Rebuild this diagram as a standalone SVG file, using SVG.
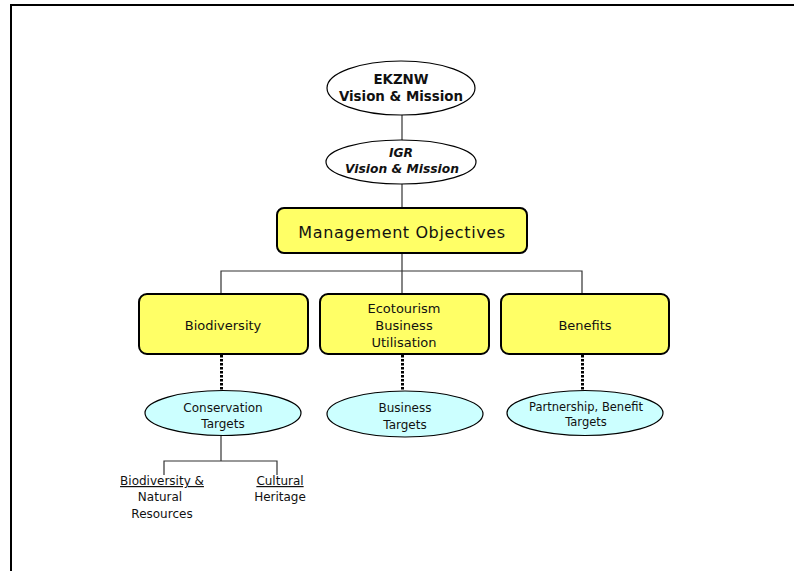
<svg xmlns="http://www.w3.org/2000/svg" width="794" height="571" viewBox="0 0 794 571">
<style>
text{font-family:"DejaVu Sans","Liberation Sans",sans-serif;fill:#111;text-anchor:middle}
.oval{fill:#fff;stroke:#000;stroke-width:1.2}
.tgt{fill:#ccffff;stroke:#000;stroke-width:1.2}
.box{fill:#ffff66;stroke:#000;stroke-width:2}
.ln{stroke:#333;stroke-width:1.2;fill:none}
.dot{stroke:#000;stroke-width:3;stroke-dasharray:2.5 1.5;fill:none}
.b{font-weight:bold;font-size:13.4px}
.bi{font-weight:bold;font-style:italic;font-size:12.3px}
.m{font-size:16px;letter-spacing:0.6px}
.s{font-size:13px}
.t{font-size:12px}
.u{text-decoration:underline}
</style>
<rect x="11" y="5" width="800" height="580" fill="none" stroke="#000" stroke-width="2"/>
<g id="connectors">
<line class="ln" x1="402" y1="115" x2="402" y2="141"/>
<line class="ln" x1="402" y1="184" x2="402" y2="208"/>
<line class="ln" x1="402" y1="253" x2="402" y2="294"/>
<polyline class="ln" points="221,294 221,271 582,271 582,294"/>
<line class="dot" x1="221.5" y1="355" x2="221.5" y2="391"/>
<line class="dot" x1="402.5" y1="355" x2="402.5" y2="391"/>
<line class="dot" x1="582.5" y1="355" x2="582.5" y2="391"/>
<line class="ln" x1="221" y1="436" x2="221" y2="461"/>
<polyline class="ln" points="164,475 164,461 277,461 277,475"/>
</g>
<g id="ekznw">
<ellipse class="oval" cx="401" cy="88" rx="74" ry="27"/>
<text class="b" x="401" y="84">EKZNW</text>
<text class="b" x="401" y="101">Vision &amp; Mission</text>
</g>
<g id="igr">
<ellipse class="oval" cx="401" cy="162" rx="75" ry="22"/>
<text class="bi" x="401" y="157">IGR</text>
<text class="bi" x="402" y="173">Vision &amp; Mission</text>
</g>
<g id="management">
<rect class="box" x="277" y="208" width="250" height="45" rx="7"/>
<text class="m" x="402" y="238">Management Objectives</text>
</g>
<g id="biodiversity">
<rect class="box" x="139" y="294" width="169" height="60" rx="8"/>
<text class="s" x="223" y="330">Biodiversity</text>
</g>
<g id="ecotourism">
<rect class="box" x="320" y="294" width="169" height="60" rx="8"/>
<text class="s" x="404" y="313">Ecotourism</text>
<text class="s" x="404" y="330">Business</text>
<text class="s" x="404" y="347">Utilisation</text>
</g>
<g id="benefits">
<rect class="box" x="501" y="294" width="168" height="60" rx="8"/>
<text class="s" x="585" y="330">Benefits</text>
</g>
<g id="conservation">
<ellipse class="tgt" cx="223" cy="413" rx="78" ry="22.5"/>
<text class="t" x="223" y="412">Conservation</text>
<text class="t" x="223" y="428">Targets</text>
</g>
<g id="business">
<ellipse class="tgt" cx="405" cy="414" rx="78" ry="23"/>
<text class="t" x="405" y="412">Business</text>
<text class="t" x="405" y="429">Targets</text>
</g>
<g id="partnership">
<ellipse class="tgt" cx="585" cy="413" rx="78" ry="22.5"/>
<text class="t" x="586" y="411" style="font-size:11.5px">Partnership, Benefit</text>
<text class="t" x="586" y="426" style="font-size:11.5px">Targets</text>
</g>
<g id="biodiv-natural">
<text class="t u" x="162" y="485">Biodiversity &amp;</text>
<text class="t" x="160" y="501">Natural</text>
<text class="t" x="162" y="518">Resources</text>
</g>
<g id="cultural">
<text class="t u" x="280" y="485">Cultural</text>
<text class="t" x="280" y="501">Heritage</text>
</g>
</svg>
